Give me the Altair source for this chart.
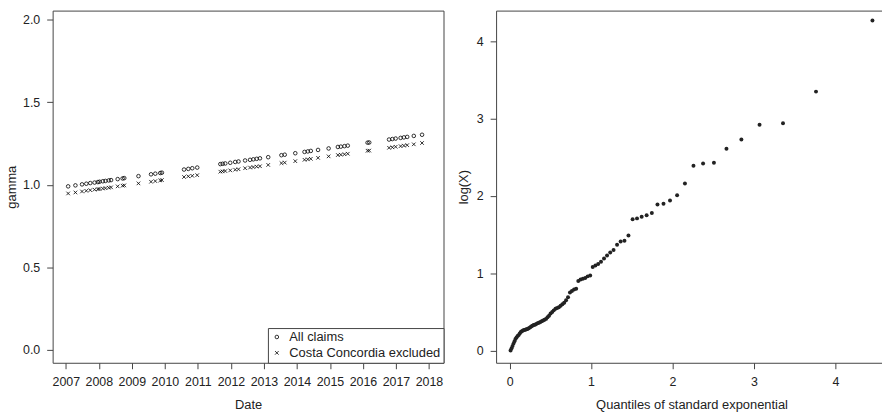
import altair as alt
import pandas as pd

# ---------------- Left panel data ----------------
dates = [2007.07, 2007.29, 2007.49, 2007.62, 2007.74, 2007.87, 2007.97,
         2008.02, 2008.12, 2008.20, 2008.30, 2008.37, 2008.57, 2008.72, 2008.77,
         2009.20, 2009.58, 2009.71, 2009.86, 2009.91,
         2010.58, 2010.71, 2010.83, 2010.98,
         2011.68, 2011.75, 2011.83, 2011.98,
         2012.13, 2012.23, 2012.43, 2012.58, 2012.68, 2012.78, 2012.88,
         2013.13, 2013.53, 2013.63, 2013.95,
         2014.23, 2014.33, 2014.42, 2014.64, 2014.96,
         2015.24, 2015.33, 2015.44, 2015.54,
         2016.14, 2016.19, 2016.79, 2016.89, 2016.99,
         2017.14, 2017.24, 2017.34, 2017.54, 2017.79]

gamma_all = [0.990, 0.996, 1.002, 1.006, 1.010, 1.013, 1.016,
             1.018, 1.021, 1.023, 1.026, 1.028, 1.034, 1.038, 1.040,
             1.052, 1.063, 1.067, 1.071, 1.073,
             1.092, 1.096, 1.100, 1.104,
             1.125, 1.127, 1.129, 1.133,
             1.138, 1.141, 1.147, 1.151, 1.154, 1.157, 1.160,
             1.167, 1.179, 1.182, 1.191,
             1.199, 1.202, 1.205, 1.211, 1.220,
             1.229, 1.231, 1.234, 1.237,
             1.255, 1.256, 1.274, 1.277, 1.280,
             1.284, 1.287, 1.290, 1.296, 1.303]

gamma_excl = [0.947, 0.953, 0.959, 0.963, 0.967, 0.970, 0.973,
              0.974, 0.977, 0.979, 0.982, 0.984, 0.990, 0.994, 0.996,
              1.008, 1.018, 1.022, 1.026, 1.028,
              1.047, 1.051, 1.054, 1.058,
              1.079, 1.081, 1.083, 1.087,
              1.091, 1.094, 1.100, 1.104, 1.107, 1.110, 1.112,
              1.120, 1.131, 1.134, 1.143,
              1.151, 1.154, 1.157, 1.163, 1.172,
              1.180, 1.182, 1.185, 1.188,
              1.206, 1.207, 1.224, 1.227, 1.230,
              1.234, 1.237, 1.240, 1.245, 1.253]

series_names = ["All claims", "Costa Concordia excluded"]
year_ticks = [2007, 2008, 2009, 2010, 2011, 2012, 2013, 2014, 2015, 2016, 2017, 2018]
gamma_ticks = [0.0, 0.5, 1.0, 1.5, 2.0]

# ---------------- Right panel data ----------------
exp_quantiles = [0.012, 0.024, 0.036, 0.048, 0.060, 0.072, 0.085, 0.098, 0.111, 0.124,
                 0.137, 0.150, 0.164, 0.178, 0.192, 0.206, 0.220, 0.235, 0.250, 0.265,
                 0.280, 0.295, 0.311, 0.327, 0.343, 0.360, 0.377, 0.394, 0.411, 0.429,
                 0.447, 0.465, 0.484, 0.503, 0.523, 0.542, 0.563, 0.583, 0.604, 0.626,
                 0.648, 0.670, 0.693, 0.717, 0.741, 0.765, 0.791, 0.817, 0.843, 0.871,
                 0.899, 0.928, 0.958, 0.989, 1.020, 1.053, 1.087, 1.122, 1.159, 1.196,
                 1.235, 1.276, 1.319, 1.363, 1.410, 1.459, 1.510, 1.564, 1.621, 1.682,
                 1.746, 1.815, 1.889, 1.969, 2.056, 2.152, 2.257, 2.375, 2.508, 2.662,
                 2.845, 3.068, 3.356, 3.761, 4.454]

log_x = [0.00, 0.03, 0.06, 0.09, 0.12, 0.15, 0.17, 0.19, 0.20, 0.22,
         0.24, 0.25, 0.26, 0.265, 0.27, 0.275, 0.28, 0.29, 0.30, 0.31,
         0.32, 0.33, 0.335, 0.345, 0.355, 0.36, 0.37, 0.38, 0.39, 0.40,
         0.41, 0.43, 0.45, 0.48, 0.50, 0.52, 0.54, 0.55, 0.56, 0.58,
         0.60, 0.62, 0.65, 0.69, 0.75, 0.77, 0.79, 0.80, 0.90, 0.92,
         0.93, 0.94, 0.96, 0.97, 1.08, 1.10, 1.12, 1.15, 1.19, 1.23,
         1.27, 1.30, 1.37, 1.41, 1.42, 1.49, 1.70, 1.71, 1.73, 1.75,
         1.78, 1.89, 1.90, 1.94, 2.01, 2.16, 2.39, 2.42, 2.43, 2.61,
         2.73, 2.92, 2.94, 3.35, 4.27]

q_ticks = [0, 1, 2, 3, 4]

# ---------------- Build frames ----------------
n = len(dates)
df_left = pd.DataFrame({
    "date": dates + dates,
    "gamma": gamma_all + gamma_excl,
    "series": [series_names[0]] * n + [series_names[1]] * n,
})
df_right = pd.DataFrame({"q": exp_quantiles, "lx": log_x})

FONT = "Liberation Sans"
INK = "#222222"
FRAME = "#444444"
XSHAPE = "M-1,-1L1,1M-1,1L1,-1"

left = alt.Chart(df_left).mark_point(filled=False, size=13, strokeWidth=0.8, opacity=1).encode(
    x=alt.X("date:Q",
            scale=alt.Scale(domain=[2006.60, 2018.44], nice=False, zero=False),
            axis=alt.Axis(values=year_ticks, format="d", title="Date")),
    y=alt.Y("gamma:Q",
            scale=alt.Scale(domain=[-0.08, 2.056], nice=False, zero=False),
            axis=alt.Axis(values=gamma_ticks, format=".1f", title="gamma", titlePadding=4)),
    shape=alt.Shape("series:N",
                    scale=alt.Scale(domain=series_names, range=["circle", XSHAPE]),
                    legend=alt.Legend(title=None, orient="bottom-right", offset=0,
                                      strokeColor=FRAME, fillColor="white", padding=2.5,
                                      labelFontSize=13, labelFont=FONT, labelColor=INK,
                                      symbolSize=13, symbolStrokeWidth=0.8,
                                      symbolStrokeColor="black", symbolFillColor="transparent",
                                      labelOffset=6, rowPadding=2)),
    color=alt.value("black"),
).properties(width=394, height=355)

right = alt.Chart(df_right).mark_circle(size=16, color=INK, opacity=1).encode(
    x=alt.X("q:Q",
            scale=alt.Scale(domain=[-0.166, 4.632], nice=False, zero=False),
            axis=alt.Axis(values=q_ticks, format="d", title="Quantiles of standard exponential")),
    y=alt.Y("lx:Q",
            scale=alt.Scale(domain=[-0.158, 4.398], nice=False, zero=False),
            axis=alt.Axis(values=q_ticks, format="d", title="log(X)", titlePadding=6)),
).properties(width=394, height=355)

chart = alt.hconcat(left, right, spacing=53, bounds="flush").resolve_legend(
    shape="independent"
).resolve_scale(shape="independent").configure_view(
    stroke=FRAME, strokeWidth=1
).configure_axis(
    domain=False, grid=False, ticks=True, tickColor=FRAME, tickSize=6, tickWidth=1,
    labelFont=FONT, labelFontSize=12.5, labelColor=INK, labelPadding=7, labelFlush=False,
    titleFont=FONT, titleFontSize=13, titleColor=INK, titleFontWeight="normal",
    titlePadding=11,
).properties(
    padding={"left": -3, "top": 0, "right": -6, "bottom": 0}
)

chart.save("out.html", embed_options={"renderer": "svg", "actions": False})
